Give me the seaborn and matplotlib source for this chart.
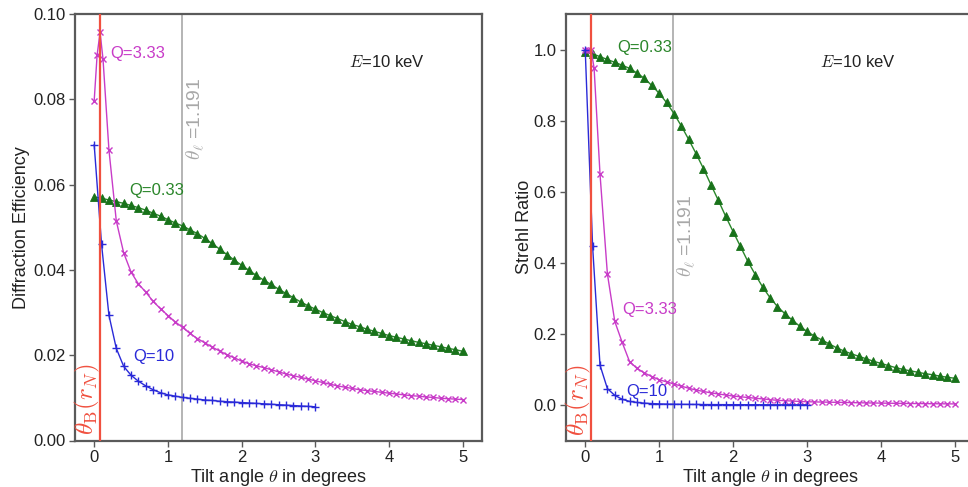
import numpy as np
import matplotlib
matplotlib.use("Agg")
import matplotlib.pyplot as plt
import seaborn as sns

# ---- tilt angles (degrees) ----
theta_grid = np.round(np.linspace(0.0, 5.0, 51), 2)           # Q=0.33 curves
theta_short = np.round(np.linspace(0.0, 3.0, 31), 2)          # Q=10 curves
theta_peak = [0.0, 0.04, 0.08, 0.12]                           # refined near Bragg angle
theta_mid = list(np.round(np.linspace(0.2, 5.0, 49), 2))
theta_q333 = theta_peak + theta_mid                            # Q=3.33 curves

theta_bragg = 0.08
theta_ell = 1.191

# ---- diffraction efficiency ----
de_q033 = [0.0571, 0.0568, 0.0564, 0.0560, 0.0556, 0.0551, 0.0546, 0.0540, 0.0533, 0.0526,
           0.0518, 0.0510, 0.0503, 0.0494, 0.0485, 0.0474, 0.0462, 0.0449, 0.0436, 0.0423,
           0.0411, 0.0399, 0.0387, 0.0376, 0.0366, 0.0355, 0.0345, 0.0335, 0.0325, 0.0316,
           0.0308, 0.0300, 0.0293, 0.0286, 0.0279, 0.0272, 0.0267, 0.0261, 0.0256, 0.0251,
           0.0246, 0.0242, 0.0238, 0.0234, 0.0230, 0.0227, 0.0223, 0.0220, 0.0216, 0.0213,
           0.0209]
de_q333 = [0.0796, 0.0904, 0.0957, 0.0894,
           0.0682, 0.0515, 0.0440, 0.0395, 0.0367, 0.0348, 0.0326, 0.0309, 0.0293, 0.0278,
           0.0265, 0.0251, 0.0239, 0.0229, 0.0219, 0.0210, 0.0201, 0.0194, 0.0186, 0.0180,
           0.0175, 0.0171, 0.0166, 0.0161, 0.0156, 0.0152, 0.0148, 0.0144, 0.0140, 0.0136,
           0.0132, 0.0128, 0.0125, 0.0122, 0.0119, 0.0117, 0.0115, 0.0113, 0.0111, 0.0109,
           0.0107, 0.0105, 0.0104, 0.0102, 0.0101, 0.0099, 0.0098, 0.0097, 0.0096]
de_q10 = [0.0694, 0.0460, 0.0294, 0.0216, 0.0174, 0.0153, 0.0139, 0.0128, 0.0119, 0.0112,
          0.0107, 0.0104, 0.0101, 0.0099, 0.0097, 0.0095, 0.0094, 0.0092, 0.0091, 0.0090,
          0.0089, 0.0088, 0.0087, 0.0086, 0.0085, 0.0084, 0.0083, 0.0082, 0.0081, 0.0080,
          0.0079]

# ---- Strehl ratio ----
sr_q033 = [0.993, 0.988, 0.980, 0.972, 0.964, 0.956, 0.947, 0.934, 0.919, 0.899,
           0.877, 0.851, 0.820, 0.785, 0.747, 0.707, 0.665, 0.620, 0.576, 0.531,
           0.488, 0.446, 0.404, 0.367, 0.332, 0.302, 0.277, 0.257, 0.239, 0.222,
           0.207, 0.194, 0.183, 0.172, 0.161, 0.152, 0.144, 0.137, 0.130, 0.123,
           0.117, 0.111, 0.105, 0.100, 0.096, 0.092, 0.088, 0.085, 0.081, 0.078,
           0.075]
sr_q333 = [1.000, 1.000, 0.998, 0.948,
           0.650, 0.369, 0.235, 0.176, 0.122, 0.103, 0.090, 0.080, 0.071, 0.065,
           0.059, 0.053, 0.047, 0.042, 0.038, 0.034, 0.031, 0.028, 0.025, 0.023,
           0.021, 0.019, 0.017, 0.015, 0.013, 0.012, 0.011, 0.010, 0.009, 0.0086,
           0.0082, 0.0078, 0.0074, 0.0070, 0.0066, 0.0062, 0.0058, 0.0055, 0.0052, 0.0049,
           0.0046, 0.0043, 0.0041, 0.0039, 0.0037, 0.0035, 0.0033, 0.0031, 0.0030]
sr_q10 = [1.000, 0.446, 0.112, 0.046, 0.027, 0.016, 0.010, 0.007, 0.005, 0.004,
          0.003, 0.0025, 0.0021, 0.0018, 0.0016, 0.0014, 0.0012, 0.0011, 0.0010, 0.0009,
          0.0008, 0.0008, 0.0007, 0.0007, 0.0006, 0.0006, 0.0005, 0.0005, 0.0005, 0.0004,
          0.0004]

# ---- styling ----
sns.set_theme(style="ticks")
plt.rcParams["font.family"] = ["Liberation Sans", "DejaVu Sans"]
plt.rcParams["mathtext.fontset"] = "cm"

C_BLUE = "#2a2ad8"
C_MAG = "#c83cc8"
C_GREEN = "#2a862a"
C_GREEN_MK = "#18721a"
C_RED = "#f0503f"
C_GRAY = "#b4b4b4"
C_SPINE = "#5a5a5a"

W, H = 968, 487
fig = plt.figure(figsize=(W / 100, H / 100), dpi=100)

def px_axes(x0, x1, y0, y1):
    return fig.add_axes([x0 / W, 1 - y1 / H, (x1 - x0) / W, (y1 - y0) / H])

ax_de = px_axes(75, 482, 14, 440.5)
ax_sr = px_axes(566, 974, 14, 440.5)

def draw_curves(ax, d033, d333, d10):
    sns.lineplot(x=theta_grid, y=d033, ax=ax, color=C_GREEN, linewidth=1.0,
                 marker="^", markersize=5.5, markeredgewidth=0.6,
                 markerfacecolor=C_GREEN_MK, markeredgecolor=C_GREEN_MK,
                 estimator=None, sort=False, zorder=3)
    sns.lineplot(x=theta_q333, y=d333, ax=ax, color=C_MAG, linewidth=1.0,
                 marker="x", markersize=4.5, markeredgewidth=1.0,
                 markeredgecolor=C_MAG, markerfacecolor=C_MAG,
                 estimator=None, sort=False, zorder=4)
    sns.lineplot(x=theta_short, y=d10, ax=ax, color=C_BLUE, linewidth=1.0,
                 marker="+", markersize=5.5, markeredgewidth=1.0,
                 markeredgecolor=C_BLUE, markerfacecolor=C_BLUE,
                 estimator=None, sort=False, zorder=5)

def style_axes(ax, ylim, yticks, yfmt, ylabel, ylabelpad):
    ax.set_xlim(-0.26, 5.26)
    ax.set_ylim(*ylim)
    ax.set_xticks([0, 1, 2, 3, 4, 5])
    ax.set_yticks(yticks)
    ax.set_yticklabels([yfmt.format(v) for v in yticks])
    for s in ax.spines.values():
        s.set_visible(True)
        s.set_color(C_SPINE)
        s.set_linewidth(1.6)
    ax.tick_params(axis="both", direction="out", length=4, width=1.0,
                   color=C_SPINE, labelsize=12, labelcolor="#222222", pad=3)
    ax.set_xlabel(r"Tilt angle $\theta$ in degrees", fontsize=13, color="#222222", labelpad=1)
    ax.set_ylabel(ylabel, fontsize=13, color="#222222", labelpad=ylabelpad)
    ax.grid(False)

def draw_markers(ax, ell_y, bragg_y):
    ax.axvline(theta_bragg, color=C_RED, linewidth=1.6, zorder=6)
    ax.axvline(theta_ell, color=C_GRAY, linewidth=1.4, zorder=1)
    ax.text(1.37, ell_y, r"$\theta_\ell$ =1.191", rotation=90, color="#a8a8a8",
            fontsize=14, ha="center", va="bottom")
    ax.text(-0.095, bragg_y, r"$\theta_\mathrm{B}(r_N)$", rotation=90, color=C_RED,
            fontsize=18, ha="center", va="bottom")

# left: diffraction efficiency
draw_curves(ax_de, de_q033, de_q333, de_q10)
style_axes(ax_de, (0.0, 0.1), [0.00, 0.02, 0.04, 0.06, 0.08, 0.10], "{:.2f}",
           "Diffraction Efficiency", 2)
draw_markers(ax_de, 0.0657, 0.0012)
ax_de.text(0.22, 0.0908, "Q=3.33", color=C_MAG, fontsize=12, va="center")
ax_de.text(0.47, 0.0585, "Q=0.33", color=C_GREEN, fontsize=12, va="center")
ax_de.text(0.53, 0.0196, "Q=10", color=C_BLUE, fontsize=12, va="center")
ax_de.text(3.45, 0.0887, r"$E$=10 keV", color="#222222", fontsize=12, va="center")

# right: Strehl ratio
draw_curves(ax_sr, sr_q033, sr_q333, sr_q10)
style_axes(ax_sr, (-0.1, 1.1), [0.0, 0.2, 0.4, 0.6, 0.8, 1.0], "{:.1f}", "Strehl Ratio", 0)
draw_markers(ax_sr, 0.36, -0.088)
ax_sr.text(0.43, 1.005, "Q=0.33", color=C_GREEN, fontsize=12, va="center")
ax_sr.text(0.50, 0.268, "Q=3.33", color=C_MAG, fontsize=12, va="center")
ax_sr.text(0.56, 0.0375, "Q=10", color=C_BLUE, fontsize=12, va="center")
ax_sr.text(3.18, 0.965, r"$E$=10 keV", color="#222222", fontsize=12, va="center")

fig.savefig("out.png", dpi=100, facecolor="white")
